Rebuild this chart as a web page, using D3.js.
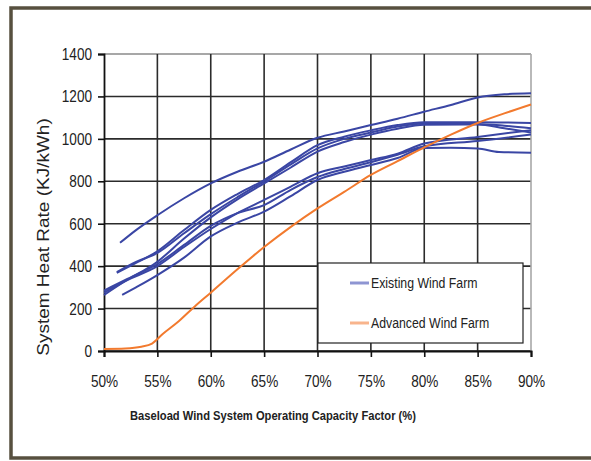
<!DOCTYPE html>
<html>
<head>
<meta charset="utf-8">
<script src="https://cdn.jsdelivr.net/npm/d3@7"></script>
<style>
  html, body { margin: 0; padding: 0; background: #ffffff; }
  svg { display: block; }
  text { font-family: "Liberation Sans", Arial, sans-serif; fill: #222; }
</style>
</head>
<body>
<svg id="chart" width="591" height="461"></svg>
<script>
// ---- data ----
const xTicks = [0.50, 0.55, 0.60, 0.65, 0.70, 0.75, 0.80, 0.85, 0.90];
const yTicks = [0, 200, 400, 600, 800, 1000, 1200, 1400];
const seriesNames = ["Existing Wind Farm", "Advanced Wind Farm"];

// Existing wind farms: [capacity factor %, heat rate KJ/kWh]
const existingA = [[51.5,510],[53,570],[55,640],[57.5,720],[60,790],[62.5,845],[65,892],[67.5,950],[70,1005],[72.5,1035],[75,1065],[77.5,1095],[80,1128],[82.5,1160],[85,1195],[87.5,1210],[90,1215]];
const existingB = [[51.2,368],[53,415],[55,470],[57.5,570],[60,665],[62.5,740],[65,806],[67.5,890],[70,970],[72.5,1010],[75,1040],[77.5,1065],[80,1078],[85,1078],[90,1075]];
const existingC = [[51.2,372],[53,420],[55,462],[57.5,555],[60,645],[62.5,725],[65,800],[67.5,880],[70,955],[72.5,1000],[75,1030],[77.5,1058],[80,1072],[85,1070],[87.5,1062],[90,1050]];
const existingD = [[50,264],[52,330],[55,421],[57.5,530],[60,630],[62.5,715],[65,790],[67.5,865],[70,940],[72.5,985],[75,1020],[77.5,1048],[80,1066],[85,1068],[87.5,1050],[90,1030]];
const existingE = [[50,275],[52,330],[55,400],[57.5,490],[60,575],[62.5,650],[65,712],[67.5,775],[70,838],[72.5,870],[75,900],[77.5,930],[80,978],[85,1009],[90,1041]];
const existingF = [[51.7,264],[53,300],[55,358],[57.5,440],[60,540],[62.5,605],[65,657],[67.5,730],[70,806],[72.5,845],[75,877],[77.5,910],[80,957],[82.5,958],[85,955],[87,938],[90,935]];
const existingG = [[50,285],[52,335],[55,410],[57.5,500],[60,590],[62.5,650],[65,688],[67.5,760],[70,820],[72.5,858],[75,890],[77.5,925],[80,965],[85,990],[90,1020]];
const advanced = [[50,10],[52,12],[53.5,20],[54.5,35],[55.5,80],[57,140],[58.5,210],[60,275],[62.5,385],[65,490],[67.5,585],[70,672],[72.5,750],[75,830],[77.5,895],[80,960],[82.5,1020],[85,1075],[87.5,1120],[90,1162]];

const existingSeries = [existingA, existingB, existingC, existingD, existingE, existingF, existingG];

// ---- drawing ----
const svg = d3.select("#chart");
const blue = "#3a46a4";
const orange = "#f27a2e";

// outer frame
svg.append("rect")
  .attr("x", 11).attr("y", 8).attr("width", 620).attr("height", 450)
  .attr("fill", "#ffffff").attr("stroke", "#57503f").attr("stroke-width", 3.5);

const x = d3.scaleLinear().domain([0.5, 0.9]).range([104, 531]);
const y = d3.scaleLinear().domain([0, 1400]).range([351, 54]);

// gridlines
const grid = svg.append("g");
grid.selectAll("line.h").data(yTicks).join("line")
  .attr("x1", x(0.5)).attr("x2", x(0.9))
  .attr("y1", d => y(d)).attr("y2", d => y(d))
  .attr("stroke", d => d === 1400 ? "#8a8a8a" : "#2b2b2b")
  .attr("stroke-width", 1.6);
grid.selectAll("line.v").data(xTicks.slice(1)).join("line")
  .attr("y1", y(0)).attr("y2", y(1400))
  .attr("x1", d => x(d)).attr("x2", d => x(d))
  .attr("stroke", d => d === 0.9 ? "#a8a8a8" : "#2b2b2b")
  .attr("stroke-width", 1.6);

// axes
const sx = 0.8;
const yAxis = d3.axisLeft(y).tickValues(yTicks).tickSize(6).tickPadding(6).tickFormat(d3.format("d"));
const gy = svg.append("g").attr("transform", `translate(${x(0.5)},0)`).call(yAxis);
gy.select(".domain").attr("stroke", "#111").attr("stroke-width", 1.8);
gy.selectAll(".tick line").attr("stroke", "#111").attr("stroke-width", 1.6);
gy.selectAll(".tick text").attr("font-size", 17).attr("fill", "#222")
  .attr("x", -12 / sx).attr("transform", `scale(${sx},1)`)
  .style("font-family", '"Liberation Sans", Arial, sans-serif');

const xAxis = d3.axisBottom(x).tickValues(xTicks).tickSize(6).tickPadding(18).tickFormat(d3.format(".0%"));
const gx = svg.append("g").attr("transform", `translate(0,${y(0)})`).call(xAxis);
gx.select(".domain").attr("stroke", "#111").attr("stroke-width", 2);
gx.selectAll(".tick line").attr("stroke", "#111").attr("stroke-width", 1.6);
gx.selectAll(".tick text").attr("font-size", 17).attr("fill", "#222")
  .attr("transform", `scale(${sx},1)`)
  .style("font-family", '"Liberation Sans", Arial, sans-serif');

// lines
const line = d3.line()
  .x(d => x(d[0] / 100))
  .y(d => y(d[1]))
  .curve(d3.curveMonotoneX);

svg.append("g").selectAll("path").data(existingSeries).join("path")
  .attr("d", line)
  .attr("fill", "none").attr("stroke", blue).attr("stroke-width", 2);

svg.append("path").datum(advanced)
  .attr("d", line)
  .attr("fill", "none").attr("stroke", orange).attr("stroke-width", 2);

// legend
const lg = svg.append("g");
lg.append("rect").attr("x", 318).attr("y", 263).attr("width", 205).attr("height", 80)
  .attr("fill", "#ffffff").attr("stroke", "#222").attr("stroke-width", 1.2);
const legendColors = ["#8e95d2", "#f8b48c"];
seriesNames.forEach((name, i) => {
  const ly = 283 + i * 40;
  lg.append("line").attr("x1", 350).attr("x2", 369).attr("y1", ly).attr("y2", ly)
    .attr("stroke", legendColors[i]).attr("stroke-width", 3);
  lg.append("g").attr("transform", `translate(371,${ly}) scale(0.82,1)`)
    .append("text").attr("dy", "0.35em")
    .attr("font-size", 15).attr("fill", "#333").text(name);
});

// axis titles
svg.append("g").attr("transform", "translate(273,420) scale(0.86,1)")
  .append("text")
  .attr("text-anchor", "middle")
  .attr("font-size", 13).attr("font-weight", "bold").attr("fill", "#222")
  .text("Baseload Wind System Operating Capacity Factor (%)");

svg.append("g").attr("transform", "translate(49,237) rotate(-90) scale(1,0.85)")
  .append("text")
  .attr("text-anchor", "middle")
  .attr("font-size", 19).attr("fill", "#222")
  .text("System Heat Rate (KJ/kWh)");
</script>
</body>
</html>
